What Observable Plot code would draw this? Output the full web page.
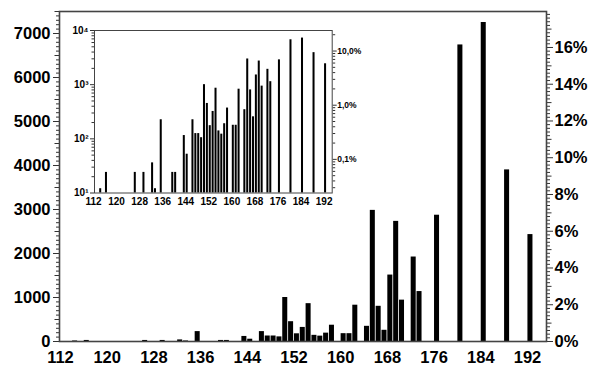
<!DOCTYPE html>
<html>
<head>
<meta charset="utf-8">
<script src="https://cdn.jsdelivr.net/npm/d3@7"></script>
<script src="https://cdn.jsdelivr.net/npm/@observablehq/plot@0.6"></script>
<style>
  html, body { margin: 0; padding: 0; background: white; }
  #wrap { position: relative; width: 604px; height: 384px; }
  #wrap svg { position: absolute; max-width: none; }
</style>
</head>
<body>
<div id="wrap"></div>
<script>
// Mass values (x) and abundance counts
const masses = [114,116,126,129,132,133,135,139,140,143,144,146,147,148,149,150,151,152,153,154,155,156,157,158,160,161,162,164,165,166,167,168,169,170,172,173,176,180,184,188,192];
const counts = [12,24,24,24,36,12,225,24,24,115,52,225,125,125,105,1000,450,175,320,860,140,122,190,370,178,178,825,345,2980,800,255,1510,2730,940,1920,1135,2870,6740,7250,3900,2430];

// Tick labels
const xTicks = [112,120,128,136,144,152,160,168,176,184,192];
const yTicks = [0,1000,2000,3000,4000,5000,6000,7000];
const pctTicks = [0,2,4,6,8,10,12,14,16];
const logTicks = [10,100,1000,10000];
const logPctTicks = [0.1,1,10];
const logPctLabels = ["0,1%","1,0%","10,0%"];

const data = masses.map((m, i) => ({m, c: counts[i]}));
const total = d3.sum(counts);
const font = "Liberation Sans, Arial, sans-serif";
const sup = {1: "¹", 2: "²", 3: "³", 4: "⁴"};

// ---------- main chart ----------
const minorY = d3.range(0, 7501, 100).filter(v => v % 500 !== 0);
const midY = d3.range(500, 7501, 1000);
const minorP = d3.range(0, 18.01, 0.2).map(p => +p.toFixed(1)).filter(p => Math.abs(p - Math.round(p)) > 1e-6);
const midP = d3.range(1, 18, 2);

const main = Plot.plot({
  width: 604, height: 384,
  marginLeft: 59, marginRight: 58, marginTop: 11, marginBottom: 43,
  style: {fontFamily: font, fontWeight: "bold", background: "transparent", color: "#000"},
  x: {domain: [111.83, 195.25], label: null},
  y: {domain: [0, 7500], label: null},
  marks: [
    Plot.rectY(data, {x1: d => d.m + 0.07, x2: d => d.m + 0.93, y: "c", fill: "black"}),
    Plot.axisY({ticks: minorY, tickSize: 3, tickFormat: () => "", stroke: "#333", label: null}),
    Plot.axisY({ticks: midY, tickSize: 4.5, tickFormat: () => "", stroke: "#333", label: null}),
    Plot.axisY({ticks: yTicks, tickSize: 6, tickPadding: 3, fontSize: 16.5, stroke: "#333", label: null, tickFormat: d => String(d)}),
    Plot.axisY({anchor: "right", ticks: minorP.map(p => p / 100 * total), tickSize: 3, tickFormat: () => "", stroke: "#333", label: null}),
    Plot.axisY({anchor: "right", ticks: midP.map(p => p / 100 * total), tickSize: 4.5, tickFormat: () => "", stroke: "#333", label: null}),
    Plot.axisY({anchor: "right", ticks: pctTicks.map(p => p / 100 * total), tickSize: 6, tickPadding: 2, fontSize: 16.5, stroke: "#333", label: null,
      tickFormat: d => Math.round(d / total * 100) + "%"}),
    Plot.axisX({ticks: xTicks, tickSize: 0, tickPadding: 10, fontSize: 16.5, label: null, tickFormat: d => String(d)}),
    Plot.frame({stroke: "#444", strokeWidth: 1.6})
  ]
});
main.style.left = "0px"; main.style.top = "0px";
document.getElementById("wrap").appendChild(main);

// ---------- inset chart ----------
const logMinor = [];
for (const base of [10, 100, 1000]) for (let k = 2; k <= 9; k++) logMinor.push(base * k);
const pctMinor = [];
for (const base of [0.01, 0.1, 1, 10]) for (let k = 2; k <= 9; k++) pctMinor.push(base * k);
const pctMinorCounts = pctMinor.map(p => p / 100 * total).filter(v => v >= 10 && v <= 10000);
const pctLabelData = logPctTicks.map((p, i) => ({v: p / 100 * total, t: logPctLabels[i]}));

const inset = Plot.plot({
  width: 340, height: 215,
  marginLeft: 54, marginRight: 48.3, marginTop: 20, marginBottom: 32.5,
  style: {fontFamily: font, fontWeight: "bold", background: "transparent", color: "#000"},
  x: {domain: [112.35, 194.8], label: null},
  y: {type: "log", domain: [10, 10000], label: null},
  marks: [
    Plot.rect(data, {x1: d => d.m + 0.15, x2: d => d.m + 0.85, y1: () => 10, y2: "c", fill: "black"}),
    Plot.axisY({ticks: logMinor, tickSize: 2.5, tickFormat: () => "", stroke: "#333", label: null}),
    Plot.axisY({ticks: logTicks, tickSize: 4, tickPadding: 2, fontSize: 10, stroke: "#333", label: null,
      tickFormat: d => "10" + sup[Math.round(Math.log10(d))]}),
    Plot.axisY({anchor: "right", ticks: pctMinorCounts, tickSize: 2.5, tickFormat: () => "", stroke: "#333", label: null}),
    Plot.axisY({anchor: "right", ticks: pctLabelData.map(d => d.v), tickSize: 4, tickFormat: () => "", stroke: "#333", label: null}),
    Plot.text(pctLabelData, {y: "v", text: "t", frameAnchor: "right", dx: 5, textAnchor: "start", fontSize: 8.5, fill: "black"}),
    Plot.axisX({ticks: xTicks, tickSize: 0, tickPadding: 5, fontSize: 10, label: null, tickFormat: d => String(d)}),
    Plot.frame({stroke: "#444", strokeWidth: 1})
  ]
});
inset.style.left = "40px"; inset.style.top = "10px";
document.getElementById("wrap").appendChild(inset);
</script>
</body>
</html>
